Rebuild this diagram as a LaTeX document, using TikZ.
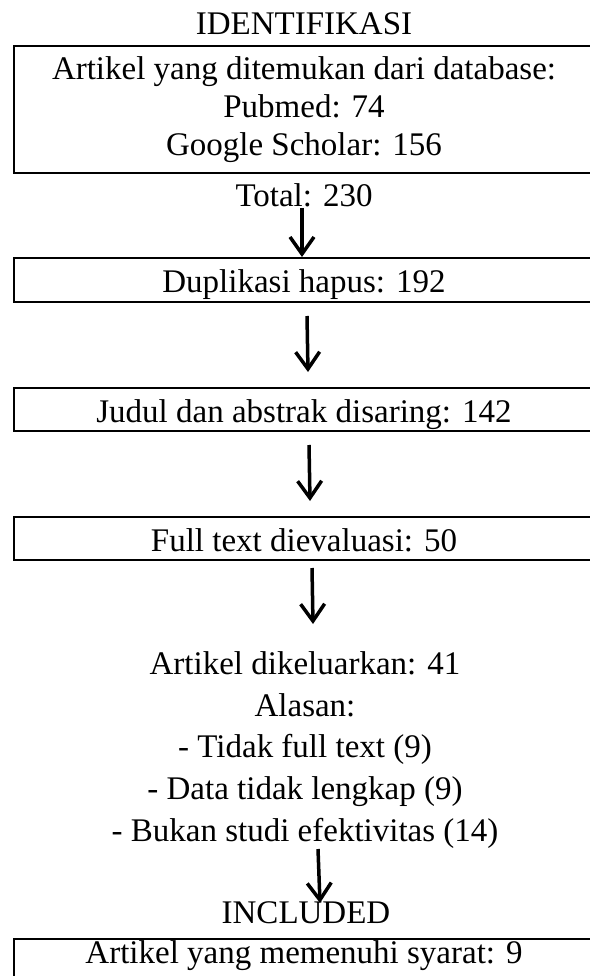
\documentclass[tikz,border=0pt]{standalone}
\usepackage{fontspec}
\setmainfont{Liberation Serif}
\usetikzlibrary{arrows.meta}

\begin{document}
\begin{tikzpicture}[x=1pt,y=-1pt,
  every node/.style={font=\fontsize{33}{38}\selectfont, inner sep=0pt, align=center},
  box/.style={draw, line width=2pt, minimum width=580pt},
  arr/.style={line width=3.5pt, -{Straight Barb[length=17pt,width=24pt,line width=3.5pt]}}]
\useasboundingbox (0,0) rectangle (589,976);

\node (ident) at (304,24) {IDENTIFIKASI};
\node[box, minimum height=127pt] (src) at (304,109.5) {Artikel yang ditemukan dari database:\\Pubmed: 74\\Google Scholar: 156};
\node (total) at (304,195) {Total: 230};

\node[box, anchor=north, text height=34pt, text depth=10pt] (dup) at (304,257) {Duplikasi hapus: 192};
\node[box, anchor=north, text height=34pt, text depth=9pt] (judul) at (304,387) {Judul dan abstrak disaring: 142};
\node[box, anchor=north, text height=34pt, text depth=9pt] (full) at (304,516) {Full text dievaluasi: 50};

\node[font=\fontsize{33}{41.7}\selectfont] (keluar) at (305,750) {Artikel dikeluarkan: 41\\Alasan:\\- Tidak full text (9)\\- Data tidak lengkap (9)\\- Bukan studi efektivitas (14)};

\node (incl) at (306,913) {INCLUDED};
\node[box, anchor=north, text height=24pt, text depth=30pt] (akhir) at (304,938) {Artikel yang memenuhi syarat: 9};

% panah
\coordinate (s1) at (302,208);
\coordinate (s2) at (307,316);
\coordinate (e2) at (308,372);
\coordinate (s3) at (309,445);
\coordinate (e3) at (310,501);
\coordinate (s4) at (312,568);
\coordinate (e4) at (313,624);
\coordinate (s5) at (318,849);
\coordinate (e5) at (320,903);

\draw[arr] (s1) -- (s1 |- dup.north);
\draw[arr] (s2) -- (e2);
\draw[arr] (s3) -- (e3);
\draw[arr] (s4) -- (e4);
\draw[arr] (s5) -- (e5);
\end{tikzpicture}
\end{document}
